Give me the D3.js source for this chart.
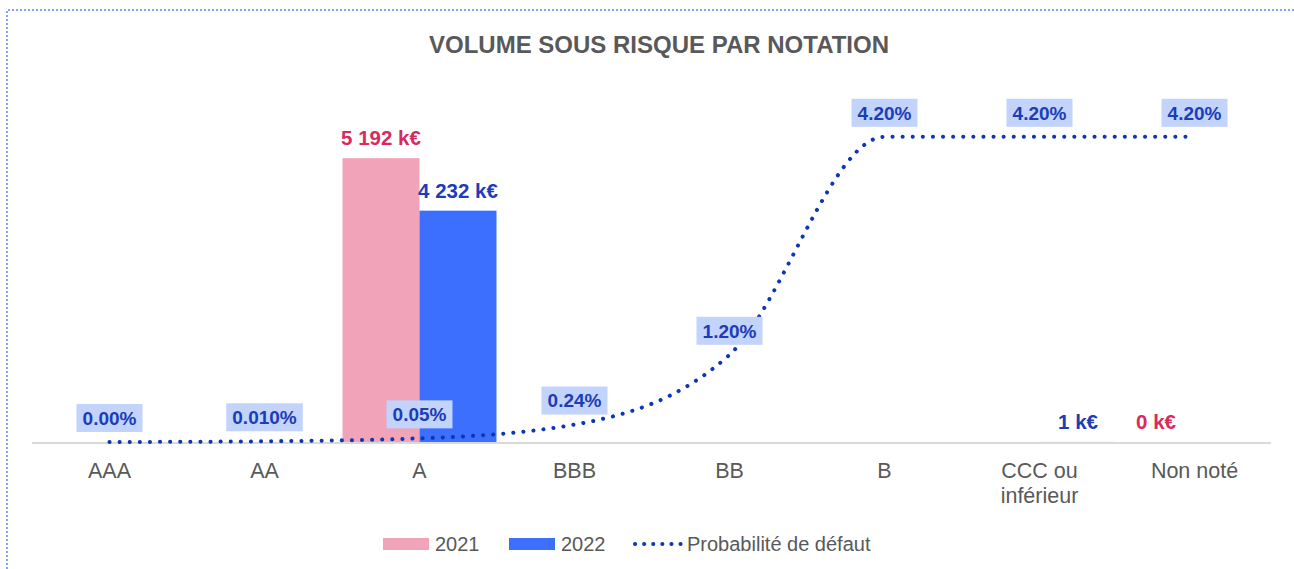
<!DOCTYPE html>
<html>
<head>
<meta charset="utf-8">
<script src="https://cdn.jsdelivr.net/npm/d3@7"></script>
<style>
    body { margin: 0; background: #fff; }
    text { font-family: "Liberation Sans", Arial, sans-serif; }
</style>
</head>
<body>
<div class="my_div"></div>
<script>
// Data
var categories = ["AAA", "AA", "A", "BBB", "BB", "B", "CCC ou\ninférieur", "Non noté"];
var volume2021 = [null, null, 5192, null, null, null, null, 0];
var volume2022 = [null, null, 4232, null, null, null, 1, null];
var probDefaut = [0.0000, 0.0001, 0.0005, 0.0024, 0.0120, 0.0420, 0.0420, 0.0420];
var probLabels = ["0.00%", "0.010%", "0.05%", "0.24%", "1.20%", "4.20%", "4.20%", "4.20%"];
var seriesNames = ["2021", "2022", "Probabilité de défaut"];

var width = 1294,
    height = 569;

var plotLeft = 32,
    plotRight = 1272,
    plotBase = 442,
    plotTop = 114;

var colors = {
    c2021: "#f0a3b9",
    c2022: "#3d6ffe",
    t2021: "#d92a5c",
    t2022: "#1c3cb8",
    line: "#0b36b4",
    box: "#c2d3fc",
    grey: "#595959"
};

var svg = d3.select(".my_div")
    .append("svg")
    .attr("width", width)
    .attr("height", height)

// Dotted outline of the chart area
svg.append("path")
    .attr("d", "M7," + height + "V10H" + width)
    .attr("fill", "none")
    .attr("stroke", "#86a3f7")
    .attr("stroke-width", 2)
    .attr("stroke-dasharray", "2,2")

// Scales
var xScale = d3.scaleBand()
    .domain(categories)
    .range([plotLeft, plotRight])
    .padding(0)

var xInner = d3.scaleBand()
    .domain(["2021", "2022"])
    .range([0, 154])
    .padding(0)

var yScale = d3.scaleLinear()
    .domain([0, 6000])
    .range([plotBase, plotTop])

var y2Scale = d3.scaleLinear()
    .domain([0, 0.045])
    .range([plotBase, plotTop + 1])

var center = (d) => { return xScale(d) + xScale.bandwidth() / 2; }

// Title
svg.append("text")
    .text("VOLUME SOUS RISQUE PAR NOTATION")
    .attr("x", 659)
    .attr("y", 53)
    .attr("text-anchor", "middle")
    .attr("font-size", 24)
    .attr("font-weight", "bold")
    .attr("fill", colors.grey)

// Bars
var groups = [
    { name: "2021", values: volume2021, fill: colors.c2021, text: colors.t2021 },
    { name: "2022", values: volume2022, fill: colors.c2022, text: colors.t2022 }
];

groups.forEach((s) => {
    var pts = categories.map((c, i) => { return { cat: c, v: s.values[i] }; })
        .filter((d) => { return d.v != null; });

    var x0 = (d) => { return center(d.cat) - 77 + xInner(s.name); };

    svg.append("g")
        .selectAll("rect")
        .data(pts)
        .enter()
        .append("rect")
        .attr("x", x0)
        .attr("y", (d) => { return yScale(d.v); })
        .attr("width", xInner.bandwidth())
        .attr("height", (d) => { return plotBase - yScale(d.v); })
        .attr("fill", s.fill)

    svg.append("g")
        .selectAll("text")
        .data(pts)
        .enter()
        .append("text")
        .text((d) => { return d3.format(",")(d.v).replace(/,/g, " ") + " k€"; })
        .attr("x", (d) => { return x0(d) + xInner.bandwidth() / 2; })
        .attr("y", (d) => { return yScale(d.v) - 13; })
        .attr("text-anchor", "middle")
        .attr("font-size", 20.5)
        .attr("font-weight", "bold")
        .attr("fill", s.text)
});

// Category axis
var axis = svg.append("g")
    .attr("transform", "translate(0," + (plotBase + 1) + ")")
    .call(d3.axisBottom(xScale).tickSize(0).tickFormat(""))

axis.select(".domain")
    .attr("d", "M" + plotLeft + ",0H" + (plotRight - 1))
    .attr("stroke", "#d9d9d9")
    .attr("stroke-width", 2)

axis.selectAll(".tick")
    .each(function (d) {
        var t = d3.select(this).append("text")
            .attr("y", 35)
            .attr("text-anchor", "middle")
            .attr("font-size", 21.5)
            .attr("fill", colors.grey)
        d.split("\n").forEach((part, i) => {
            t.append("tspan")
                .attr("x", 0)
                .attr("dy", i == 0 ? 0 : 25)
                .text(part)
        });
    })

// Probability line
var line = d3.line()
    .x((d, i) => { return center(categories[i]); })
    .y((d) => { return y2Scale(d); })
    .curve(d3.curveMonotoneX)

svg.append("path")
    .datum(probDefaut)
    .attr("d", line)
    .attr("fill", "none")
    .attr("stroke", colors.line)
    .attr("stroke-width", 4)
    .attr("stroke-linecap", "round")
    .attr("stroke-dasharray", "0.1,10")

// Probability labels in light boxes
var labels = svg.append("g")
    .selectAll("g")
    .data(probDefaut)
    .enter()
    .append("g")
    .attr("transform", (d, i) => {
        return "translate(" + center(categories[i]) + "," + (y2Scale(d) - 24) + ")";
    })

labels.append("rect")
    .attr("fill", colors.box)

labels.append("text")
    .text((d, i) => { return probLabels[i]; })
    .attr("text-anchor", "middle")
    .attr("dy", "0.36em")
    .attr("font-size", 19)
    .attr("font-weight", "bold")
    .attr("fill", colors.t2022)

labels.each(function () {
    var g = d3.select(this);
    var w = g.select("text").node().getBBox().width + 12;
    g.select("rect")
        .attr("x", -w / 2)
        .attr("y", -14)
        .attr("width", w)
        .attr("height", 28)
})

// Legend
var legend = svg.append("g")
    .attr("transform", "translate(0,544)")

legend.append("rect")
    .attr("x", 383).attr("y", -6)
    .attr("width", 46).attr("height", 12)
    .attr("fill", colors.c2021)

legend.append("rect")
    .attr("x", 509).attr("y", -6)
    .attr("width", 46).attr("height", 12)
    .attr("fill", colors.c2022)

legend.append("path")
    .attr("d", "M635,0H681")
    .attr("stroke", colors.line)
    .attr("stroke-width", 4)
    .attr("stroke-linecap", "round")
    .attr("stroke-dasharray", "0.1,9")

legend.selectAll("text")
    .data(seriesNames)
    .enter()
    .append("text")
    .text((d) => { return d; })
    .attr("x", (d, i) => { return [435, 561, 687][i]; })
    .attr("dy", "0.36em")
    .attr("font-size", 20)
    .attr("fill", colors.grey)
</script>
</body>
</html>
